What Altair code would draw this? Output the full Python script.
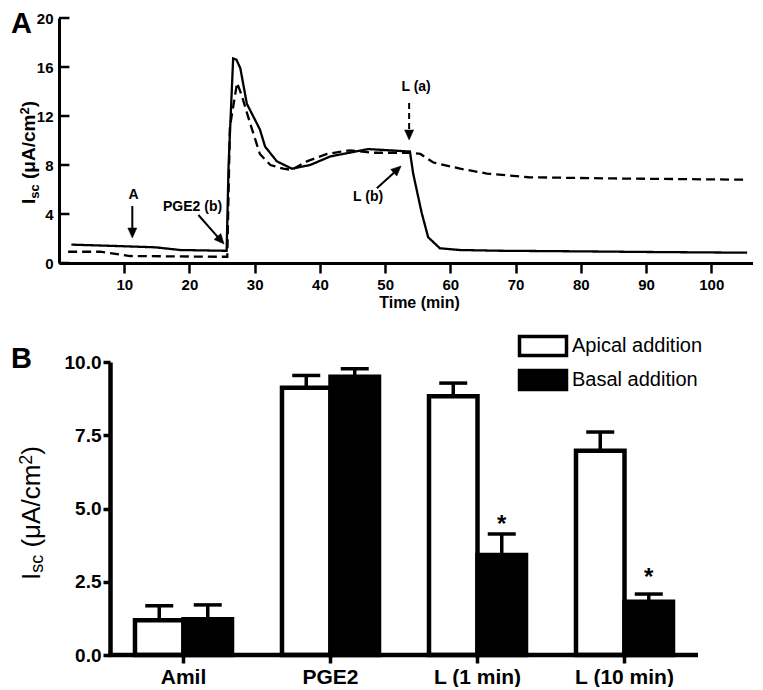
import altair as alt
import pandas as pd

# ---------------- Panel A data ----------------
solid_t = [1.9, 8.0, 14.8, 18.6, 25.2, 25.7, 26.0, 26.7, 27.2, 27.8, 28.8, 30.8, 31.6, 33.4, 35.7,
           38.5, 41.6, 47.4, 53.8, 54.3, 55.6, 56.6, 58.4, 61.5, 67.6, 80.0, 90.0, 105.5]
solid_v = [1.50, 1.40, 1.28, 1.06, 1.00, 1.00, 8.0, 16.7, 16.6, 15.9, 13.0, 10.9, 9.5, 8.3, 7.7,
           8.0, 8.7, 9.3, 9.1, 7.3, 4.1, 2.1, 1.2, 1.06, 1.0, 0.95, 0.90, 0.84]
dash_t = [1.4, 6.3, 10.9, 24.7, 25.8, 26.2, 27.3, 28.0, 29.3, 30.8, 32.4, 34.4, 35.7, 38.0,
          41.1, 44.6, 48.2, 53.8, 55.4, 57.4, 61.5, 65.6, 72.0, 85.0, 105.5]
dash_v = [0.92, 0.92, 0.57, 0.51, 0.51, 11.1, 14.7, 13.7, 11.4, 8.9, 8.0, 7.7, 7.6, 8.3,
          8.9, 9.2, 9.0, 9.0, 8.9, 8.2, 7.7, 7.3, 7.0, 6.9, 6.8]
a_yticks = [0, 4, 8, 12, 16, 20]
time_ticks = [10, 20, 30, 40, 50, 60, 70, 80, 90, 100]

note_text = ["A", "PGE2 (b)", "L (a)", "L (b)"]
note_t = [11.43, 20.48, 54.75, 47.39]
note_v = [5.55, 4.57, 14.37, 5.39]

arrow_t1 = [11.24, 21.37, 48.73]
arrow_v1 = [4.65, 3.92, 6.10]
arrow_t2 = [11.24, 24.80, 51.90]
arrow_v2 = [2.45, 1.85, 7.64]
darrow_t = [53.68]
darrow_v1 = [13.06]
darrow_v2 = [10.45]
head_t = [11.24, 25.31, 52.45, 53.68]
head_v = [2.04, 1.55, 7.92, 10.04]
head_angle = [180, 138.5, 47.5, 180]

# ---------------- Panel B data ----------------
categories = ["Amil", "PGE2", "L (1 min)", "L (10 min)"]
groups = ["Apical addition", "Basal addition"]
apical_mean = [1.19, 9.12, 8.83, 6.97]
apical_sem = [0.49, 0.42, 0.45, 0.64]
basal_mean = [1.22, 9.50, 3.41, 1.82]
basal_sem = [0.49, 0.27, 0.72, 0.26]
star_cat = ["L (1 min)", "L (10 min)"]
star_val = [4.64, 2.83]
b_yticks = [0, 2.5, 5, 7.5, 10]

FONT = "Liberation Sans"

# ---------------- tables ----------------
df_lines = pd.DataFrame({
    "t": solid_t + dash_t,
    "v": solid_v + dash_v,
    "s": ["solid"] * len(solid_t) + ["dashed"] * len(dash_t),
})
df_notes = pd.DataFrame({"t": note_t, "v": note_v, "txt": note_text})
df_arrows = pd.DataFrame({"t": arrow_t1, "v": arrow_v1, "t2": arrow_t2, "v2": arrow_v2})
df_darrow = pd.DataFrame({"t": darrow_t, "v": darrow_v1, "v2": darrow_v2})
df_heads = pd.DataFrame({"t": head_t, "v": head_v, "ang": head_angle})
df_yt = pd.DataFrame({"v": a_yticks, "t": [0] * len(a_yticks), "t2": [1.6] * len(a_yticks)})

rows = []
for i, c in enumerate(categories):
    rows.append({"cat": c, "grp": groups[0], "m": apical_mean[i], "top": apical_mean[i] + apical_sem[i]})
    rows.append({"cat": c, "grp": groups[1], "m": basal_mean[i], "top": basal_mean[i] + basal_sem[i]})
df_bars = pd.DataFrame(rows)
df_stars = pd.DataFrame({"cat": star_cat, "grp": [groups[1]] * len(star_cat), "m": star_val})
one = pd.DataFrame({"k": [0]})

# ---------------- layout (pixels, relative to the plot origin) ----------------
W, H = 694, 637          # whole drawing area
A_H = 245                # panel A height
B_X0, B_X1 = 51, 639     # panel B horizontal extent
B_Y0 = 344               # panel B top (value 10)

# ---------------- helpers ----------------
W_REG = {"I": .278, "s": .5, "c": .5, " ": .278, "(": .333, "μ": .576, "A": .667, "/": .278,
         "m": .833, "2": .556, ")": .333}
W_BOLD = {"I": .278, "s": .556, "c": .556, " ": .278, "(": .333, "μ": .611, "A": .722, "/": .278,
          "m": .889, "2": .556, ")": .333}


def ylabel_layers(x_base, y_start, main, small, bold, sub_shift, sup_shift):
    widths = W_BOLD if bold else W_REG
    pieces = [("I", main, 0), ("sc", small, sub_shift), (None, main, 0), ("(μA/cm", main, 0),
              ("2", small, sup_shift), (")", main, 0)]
    y = y_start
    out = []
    for txt, size, shift in pieces:
        if txt is None:
            y -= widths[" "] * size
            continue
        out.append(alt.Chart(one).mark_text(
            text=txt, angle=270, align="left", baseline="alphabetic", fontSize=size,
            fontWeight="bold" if bold else "normal", font=FONT, color="black"
        ).encode(x=alt.value(x_base + shift), y=alt.value(y)))
        y -= sum(widths[ch] for ch in txt) * size
    return out


# ---------------- Panel A ----------------
sx = alt.Scale(domain=[0, 106.4], nice=False, zero=False, range=[0, W])
sy = alt.Scale(domain=[0, 20], nice=False, range=[A_H, 0])
ax_x = alt.Axis(orient="bottom", offset=-(H - A_H), values=time_ticks, title="Time (min)", grid=False,
                tickSize=10, tickWidth=2.5, domainWidth=3, domainColor="black", tickColor="black",
                labelFont=FONT, labelFontSize=15, labelFontWeight="bold", labelColor="black",
                labelPadding=4, titleFont=FONT, titleFontSize=16, titleFontWeight="bold",
                titleColor="black", titlePadding=2, titleX=360)
ax_y = alt.Axis(orient="left", values=a_yticks, title=None, grid=False, ticks=False, tickSize=0,
                domainWidth=3, domainColor="black", labelFont=FONT, labelFontSize=15,
                labelFontWeight="bold", labelColor="black", labelPadding=6)


def XA(f="t"):
    return alt.X(f + ":Q", scale=sx, axis=ax_x)


def YA(f="v"):
    return alt.Y(f + ":Q", scale=sy, axis=ax_y)


lines = alt.Chart(df_lines).mark_line(color="black", strokeWidth=2.3).encode(
    x=XA(), y=YA(),
    strokeDash=alt.StrokeDash("s:N", scale=alt.Scale(domain=["solid", "dashed"], range=[[1, 0], [9, 5]]),
                              legend=None),
)
yticks = alt.Chart(df_yt).mark_rule(color="black", strokeWidth=2.5).encode(
    x=XA(), x2="t2:Q", y=YA())
arrows = alt.Chart(df_arrows).mark_rule(color="black", strokeWidth=2).encode(
    x=XA(), x2="t2:Q", y=YA(), y2="v2:Q")
darrow = alt.Chart(df_darrow).mark_rule(color="black", strokeWidth=2, strokeDash=[6, 4]).encode(
    x=XA(), y=YA(), y2="v2:Q")
heads = alt.Chart(df_heads).mark_point(
    shape="M0,0L0.45,1L-0.45,1Z", filled=True, fill="black", stroke="black", strokeWidth=0.5,
    size=400, opacity=1
).encode(x=XA(), y=YA(), angle=alt.Angle("ang:Q", scale=None))
notes = alt.Chart(df_notes).mark_text(font=FONT, fontSize=14, fontWeight="bold", color="black",
                                      baseline="middle").encode(x=XA(), y=YA(), text="txt:N")
letterA = alt.Chart(one).mark_text(text="A", font=FONT, fontSize=29, fontWeight="bold", color="black",
                                   align="left", baseline="top").encode(x=alt.value(-48), y=alt.value(-8))

panelA = alt.layer(lines, yticks, arrows, darrow, heads, notes, letterA,
                   *ylabel_layers(-24, 186, 19, 13, True, 4, -6))

# ---------------- Panel B ----------------
ax_bx = alt.Axis(orient="bottom", title=None, labelAngle=0, grid=False, domain=False, tickSize=8,
                 tickWidth=3.5, tickColor="black", labelFont=FONT, labelFontSize=21,
                 labelFontWeight="bold", labelColor="black", labelPadding=3)
ax_by = alt.Axis(orient="left", offset=-B_X0, values=b_yticks, format=".1f", title=None, grid=False,
                 tickSize=7, tickWidth=3.5, domainWidth=4.5, domainColor="black", tickColor="black",
                 labelFont=FONT, labelFontSize=19, labelFontWeight="bold", labelColor="black",
                 labelPadding=2)
sbx = alt.Scale(paddingInner=0.34, paddingOuter=0.17, range=[B_X0, B_X1])
sby = alt.Scale(domain=[0, 10], nice=False, range=[H, B_Y0])


def XB():
    return alt.X("cat:N", sort=categories, scale=sbx, axis=ax_bx)


def OB():
    return alt.XOffset("grp:N", sort=groups, scale=alt.Scale(paddingInner=0, paddingOuter=0))


def YB(f="m"):
    return alt.Y(f + ":Q", scale=sby, axis=ax_by)


baseline = alt.Chart(one).mark_rule(color="black", strokeWidth=4.5).encode(
    x=alt.value(B_X0 - 2), x2=alt.value(B_X1), y=alt.value(H))
err = alt.Chart(df_bars).mark_rule(color="black", strokeWidth=3.5).encode(
    x=XB(), xOffset=OB(), y=YB(), y2="top:Q")
caps = alt.Chart(df_bars).mark_tick(color="black", thickness=3.5, size=28, orient="horizontal",
                                    opacity=1).encode(x=XB(), xOffset=OB(), y=YB("top"))
bars = alt.Chart(df_bars).mark_bar(stroke="black", strokeWidth=4.5, opacity=1).encode(
    x=XB(), xOffset=OB(), y=YB(),
    fill=alt.Fill("grp:N", sort=groups,
                  scale=alt.Scale(domain=groups, range=["white", "black"]),
                  legend=alt.Legend(title=None, orient="none", legendX=472, legendY=B_Y0 - 28,
                                    symbolType="M-2.35,-0.95H2.35V0.95H-2.35Z", symbolSize=400,
                                    symbolStrokeColor="black", symbolStrokeWidth=3.5,
                                    symbolOpacity=1, labelFont=FONT, labelFontSize=20,
                                    labelColor="black", labelOffset=17, rowPadding=0,
                                    padding=0, labelLimit=300)),
)
stars = alt.Chart(df_stars).mark_text(text="*", font=FONT, fontSize=24, fontWeight="bold",
                                      color="black", baseline="alphabetic", dy=13).encode(
    x=XB(), xOffset=OB(), y=YB())
letterB = alt.Chart(one).mark_text(text="B", font=FONT, fontSize=29, fontWeight="bold", color="black",
                                   align="left", baseline="top").encode(x=alt.value(-48), y=alt.value(B_Y0 - 17))

panelB = alt.layer(err, caps, bars, baseline, stars, letterB,
                   *ylabel_layers(-19, 562, 26, 18, False, 3, -8))

chart = alt.layer(panelA, panelB).resolve_scale(
    x="independent", y="independent"
).properties(
    width=W, height=H, padding={"left": 3, "top": 2, "right": 0, "bottom": 0}
).configure(font=FONT).configure_view(stroke="transparent", strokeWidth=0)

chart.save("out.html", embed_options={"renderer": "svg", "actions": False})
